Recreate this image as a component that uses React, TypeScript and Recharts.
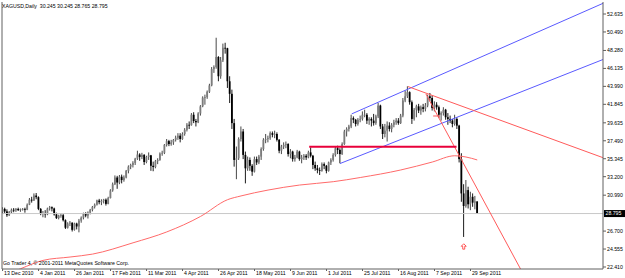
import React from 'react';
import { ComposedChart, Bar, Line, XAxis, YAxis, ReferenceLine, ReferenceDot } from 'recharts';

type Ohlc = [number, number, number, number];

const symbolName = 'XAGUSD,Daily';
const copyright = 'Go Trader 4, \u00a9 2001-2011 MetaQuotes Software Corp.';

// daily open / high / low / close, one array per month
const dec2010: Ohlc[] = [
  [28.95, 29.55, 28.8, 29.35], [29.35, 29.5, 28.85, 29.05], [29.05, 29.3, 28.4, 28.6], [28.6, 29.1, 28.5, 28.95],
  [28.95, 29.4, 28.85, 29.25], [29.25, 29.45, 28.95, 29.2], [29.2, 29.45, 29.0, 29.35], [29.35, 29.5, 29.1, 29.2],
  [29.2, 29.4, 29.0, 29.3], [29.3, 29.45, 29.15, 29.35], [29.35, 29.5, 28.9, 29.25], [29.25, 30.0, 29.2, 29.85],
  [29.85, 30.65, 29.8, 30.45], [30.45, 30.8, 30.1, 30.35], [30.35, 31.2, 30.3, 30.95],
];
const jan2011: Ohlc[] = [
  [30.95, 31.25, 30.5, 30.75], [30.75, 30.85, 29.2, 29.35], [29.35, 29.45, 28.6, 28.8], [28.8, 29.1, 28.35, 28.85],
  [28.85, 29.2, 28.3, 28.7], [28.7, 29.5, 28.6, 29.4], [29.4, 29.7, 29.15, 29.55], [29.55, 29.65, 29.05, 29.4],
  [29.4, 29.5, 28.55, 28.7], [28.7, 28.9, 28.15, 28.25], [28.25, 28.65, 28.1, 28.55], [28.55, 28.85, 28.3, 28.6],
  [28.6, 28.75, 27.85, 28.0], [28.0, 28.1, 26.95, 27.1], [27.1, 27.75, 27.0, 27.6], [27.6, 27.9, 27.3, 27.7],
  [27.7, 27.75, 26.65, 26.85], [26.85, 27.7, 26.75, 27.6], [27.6, 27.7, 26.9, 27.25], [27.25, 28.15, 26.55, 27.95],
  [27.95, 28.45, 27.7, 28.3],
];
const feb2011: Ohlc[] = [
  [28.3, 28.9, 28.1, 28.75], [28.75, 28.95, 28.35, 28.55], [28.55, 29.05, 28.2, 28.9], [28.9, 29.35, 28.7, 29.25],
  [29.25, 29.7, 29.05, 29.6], [29.6, 30.0, 29.4, 29.85], [29.85, 30.45, 29.75, 30.35], [30.35, 30.55, 29.9, 30.15],
  [30.15, 30.5, 29.8, 30.3], [30.3, 30.55, 30.0, 30.45], [30.45, 30.6, 29.75, 29.95], [29.95, 30.8, 29.9, 30.65],
  [30.65, 31.7, 30.6, 31.55], [31.55, 32.5, 31.4, 32.3], [32.3, 33.35, 32.2, 33.1], [33.1, 33.3, 31.75, 32.5],
  [32.5, 33.4, 32.3, 33.2], [33.2, 33.45, 32.4, 32.8], [32.8, 33.35, 32.6, 33.1], [33.1, 34.0, 33.0, 33.9],
];
const mar2011: Ohlc[] = [
  [33.9, 34.55, 33.6, 34.4], [34.4, 34.75, 34.1, 34.6], [34.6, 35.05, 34.3, 34.85], [34.85, 35.45, 34.6, 35.35],
  [35.35, 36.3, 35.2, 35.85], [35.85, 36.0, 35.1, 35.55], [35.55, 36.05, 35.3, 35.8], [35.8, 35.9, 34.6, 34.95],
  [34.95, 35.7, 34.8, 35.55], [35.55, 36.1, 35.2, 35.75], [35.75, 35.8, 33.9, 34.5], [34.5, 35.0, 33.85, 34.35],
  [34.35, 35.2, 34.2, 35.05], [35.05, 35.4, 34.7, 35.2], [35.2, 36.1, 35.1, 35.95], [35.95, 36.3, 35.7, 36.05],
  [36.05, 37.1, 35.9, 37.0], [37.0, 37.7, 36.8, 37.45], [37.45, 37.6, 36.85, 37.1], [37.1, 37.6, 36.9, 37.3],
  [37.3, 37.7, 37.0, 37.6], [37.6, 38.1, 37.4, 37.85], [37.85, 38.4, 37.6, 38.1],
];
const apr2011: Ohlc[] = [
  [38.1, 38.4, 37.3, 37.7], [37.7, 38.5, 37.6, 38.3], [38.3, 39.0, 38.1, 38.8], [38.8, 39.6, 38.6, 39.4],
  [39.4, 39.8, 38.9, 39.35], [39.35, 40.8, 39.3, 40.6], [40.6, 40.9, 39.6, 39.85], [39.85, 40.1, 39.2, 39.7],
  [39.7, 40.9, 39.6, 40.75], [40.75, 41.75, 40.5, 41.6], [41.6, 42.8, 41.5, 42.65], [42.65, 43.0, 41.8, 42.7],
  [42.7, 43.5, 42.5, 43.35], [43.35, 44.3, 43.2, 44.1], [44.1, 46.3, 44.0, 46.05], [46.05, 46.5, 45.6, 46.3],
  [46.3, 49.8, 46.1, 47.5], [47.5, 47.6, 44.6, 45.2], [45.2, 47.5, 44.9, 47.1], [47.1, 49.1, 46.9, 48.6],
  [48.6, 49.2, 47.9, 48.55],
];
const may2011: Ohlc[] = [
  [48.55, 48.6, 43.8, 44.6], [44.6, 45.2, 42.0, 43.1], [43.1, 43.6, 38.9, 39.6], [39.6, 40.1, 34.4, 35.2],
  [35.2, 36.8, 32.9, 35.4], [35.4, 37.9, 35.2, 37.7], [37.7, 39.2, 37.4, 38.6], [38.6, 38.9, 35.3, 35.8],
  [35.8, 36.2, 32.4, 34.2], [34.2, 35.6, 33.9, 35.2], [35.2, 35.5, 33.9, 34.5], [34.5, 34.7, 33.3, 33.8],
  [33.8, 35.6, 33.7, 35.3], [35.3, 35.6, 34.6, 34.9], [34.9, 35.8, 34.7, 35.6], [35.6, 36.7, 35.2, 36.5],
  [36.5, 37.8, 36.3, 37.6], [37.6, 38.3, 37.2, 37.7], [37.7, 38.1, 37.3, 37.8], [37.8, 38.6, 37.6, 38.4],
  [38.4, 38.6, 37.9, 38.2], [38.2, 38.7, 37.8, 38.3],
];
const jun2011: Ohlc[] = [
  [38.3, 38.5, 37.4, 37.6], [37.6, 37.7, 36.0, 36.3], [36.3, 37.0, 35.9, 36.8], [36.8, 37.3, 36.5, 37.0],
  [37.0, 37.4, 36.6, 37.1], [37.1, 37.2, 35.6, 35.9], [35.9, 36.5, 35.4, 36.2], [36.2, 36.3, 35.0, 35.3],
  [35.3, 35.8, 35.0, 35.5], [35.5, 36.4, 35.4, 36.2], [36.2, 36.3, 35.1, 35.3], [35.3, 35.8, 34.8, 35.5],
  [35.5, 35.9, 35.2, 35.7], [35.7, 35.9, 35.2, 35.5], [35.5, 36.3, 35.4, 36.1], [36.1, 36.7, 35.5, 35.7],
  [35.7, 35.8, 34.1, 34.6], [34.6, 35.0, 33.9, 34.2], [34.2, 34.6, 33.6, 34.0], [34.0, 34.3, 33.4, 33.9],
  [33.9, 34.9, 33.8, 34.7], [34.7, 34.9, 34.1, 34.5],
];
const jul2011: Ohlc[] = [
  [34.5, 34.6, 33.6, 33.9], [33.9, 35.0, 33.8, 34.9], [34.9, 35.4, 34.6, 35.2], [35.2, 36.0, 35.0, 35.8],
  [35.8, 36.8, 35.6, 36.6], [36.6, 36.9, 35.9, 36.4], [36.4, 36.6, 34.8, 35.9], [35.9, 37.3, 35.8, 37.1],
  [37.1, 38.8, 37.0, 38.6], [38.6, 39.1, 38.0, 38.9], [38.9, 39.4, 38.6, 39.2], [39.2, 40.6, 39.0, 40.2],
  [40.2, 40.4, 39.6, 40.0], [40.0, 40.1, 39.2, 39.5], [39.5, 40.2, 39.3, 40.0], [40.0, 40.5, 39.7, 40.1],
  [40.1, 41.0, 39.9, 40.6], [40.6, 41.2, 40.3, 40.6], [40.6, 40.8, 39.5, 39.9], [39.9, 40.3, 39.4, 40.1],
  [40.1, 40.3, 39.2, 39.9],
];
const aug2011: Ohlc[] = [
  [39.9, 40.7, 39.3, 39.6], [39.6, 40.6, 39.4, 40.4], [40.4, 42.0, 40.2, 41.7], [41.7, 41.8, 38.9, 39.2],
  [39.2, 39.5, 37.7, 38.3], [38.3, 39.5, 37.9, 38.7], [38.7, 39.8, 37.4, 39.3], [39.3, 39.7, 38.6, 38.9],
  [38.9, 39.6, 38.5, 39.4], [39.4, 40.0, 39.1, 39.7], [39.7, 40.2, 39.4, 39.9], [39.9, 40.2, 39.4, 39.6],
  [39.6, 40.7, 39.5, 40.5], [40.5, 42.6, 40.3, 42.3], [42.3, 43.5, 42.1, 42.8], [42.8, 44.0, 42.6, 43.3],
  [43.3, 43.4, 41.8, 42.1], [42.1, 42.3, 39.5, 40.1], [40.1, 41.4, 39.9, 41.2], [41.2, 41.8, 40.3, 41.6],
  [41.6, 41.9, 40.8, 41.1], [41.1, 41.7, 40.6, 41.5], [41.5, 41.9, 40.9, 41.3],
];
const sep2011: Ohlc[] = [
  [41.3, 42.0, 41.0, 41.7], [41.7, 43.0, 41.5, 42.8], [42.8, 43.2, 42.2, 42.6], [42.6, 42.9, 41.1, 41.4],
  [41.4, 42.2, 41.0, 41.8], [41.8, 42.1, 41.2, 41.5], [41.5, 41.7, 40.2, 40.6], [40.6, 41.0, 39.9, 40.8],
  [40.8, 41.5, 40.5, 41.2], [41.2, 41.3, 40.0, 40.3], [40.3, 40.8, 39.4, 40.1], [40.1, 40.5, 39.6, 39.9],
  [39.9, 40.1, 39.1, 39.5], [39.5, 40.6, 39.3, 40.1], [40.1, 40.3, 38.9, 39.3], [39.3, 39.4, 34.9, 35.3],
  [35.3, 36.0, 30.2, 31.2], [31.2, 32.3, 26.0, 29.7], [29.7, 32.8, 29.5, 31.6], [31.6, 32.0, 29.4, 29.9],
  [29.9, 31.4, 29.2, 30.8], [30.8, 31.2, 29.6, 30.1],
];
const oct2011: Ohlc[] = [
  [30.1, 30.9, 29.3, 30.25], [30.245, 30.245, 28.765, 28.795],
];

const dateLabels = [
  '13 Dec 2010', '4 Jan 2011', '26 Jan 2011', '17 Feb 2011', '11 Mar 2011', '4 Apr 2011', '26 Apr 2011',
  '18 May 2011', '9 Jun 2011', '1 Jul 2011', '25 Jul 2011', '16 Aug 2011', '7 Sep 2011', '29 Sep 2011',
];
const barsPerLabel = 16;

const priceTicks = [22.41, 24.555, 26.7, 30.99, 33.2, 35.345, 37.49, 39.635, 41.845, 43.99, 46.135, 48.28, 50.49, 52.635];

// moving average: bar index -> value
const maBars = [0, 8, 18, 30, 40, 58, 73, 88, 100, 106, 118, 132, 147, 159, 177, 191, 201, 206, 211];
const maValues = [21.3, 22.2, 23.2, 23.6, 23.95, 25.3, 26.6, 28.45, 30.45, 30.9, 31.6, 32.2, 32.6, 33.1, 34.0, 34.95, 35.7, 35.55, 35.2];

// hand-drawn objects, anchored as [bar index, price]
const channelLines = [
  { from: [155.2, 40.7], to: [266.9, 53.91] },
  { from: [150.0, 34.77], to: [266.9, 47.2] },
];
const thinRedLines = [
  { from: [180.2, 43.97], to: [266.9, 35.47] },
  { from: [188.2, 43.08], to: [232, 21.3] },
  { from: [191.4, 40.45], to: [194.4, 40.45] },
];
const levelLine = { from: 136.3, to: 201.8, price: 36.78 };
const arrowMarks = [{ bar: 205, price: 24.85 }];

const bars = [...dec2010, ...jan2011, ...feb2011, ...mar2011, ...apr2011, ...may2011, ...jun2011,
  ...jul2011, ...aug2011, ...sep2011, ...oct2011].map(([o, h, l, c], i) => ({ i, o, h, l, c }));
const maData = maBars.map((b, k) => ({ i: b, ma: maValues[k] }));
const last = bars[bars.length - 1];

const FONT = '"Liberation Sans", Arial, sans-serif';
const FS = 5.2;

const Candle = (props: any) => {
  const { x, y, width, height, payload } = props;
  const { o, h, l, c } = payload;
  const cx = x + width / 2;
  const k = height / (h - l || 1);
  const yo = y + (h - o) * k;
  const yc = y + (h - c) * k;
  const up = c >= o;
  const top = Math.min(yo, yc);
  const bh = Math.max(Math.abs(yc - yo), 0.8);
  return (
    <g>
      <line x1={cx} x2={cx} y1={y} y2={y + height} stroke={up ? '#333' : '#000'} strokeWidth={0.9} />
      <rect x={cx - 0.9} y={top} width={1.8} height={bh} fill={up ? '#7c7c7c' : '#000'} />
    </g>
  );
};

const DateTick = (props: any) => {
  const { x, y, payload } = props;
  return (
    <text x={x + 1.5} y={y + 4} textAnchor="start" fontSize={FS} fontFamily={FONT} fill="#000">
      {dateLabels[Math.round(payload.value / barsPerLabel)]}
    </text>
  );
};

const BidLabel = (props: any) => {
  const { viewBox } = props;
  if (!viewBox) return null;
  const { x, y, width } = viewBox;
  return (
    <g>
      <rect x={x + width + 1} y={y - 3.5} width={21} height={7} fill="#000" />
      <text x={x + width + 2.5} y={y + 1.9} fontSize={FS} fontFamily={FONT} fill="#fff">
        {last.c.toFixed(3)}
      </text>
    </g>
  );
};

const Arrow = (props: any) => {
  const { cx, cy } = props;
  const d = `M${cx},${cy - 2.8} L${cx + 2.5},${cy - 0.3} L${cx + 1},${cy - 0.3} L${cx + 1},${cy + 2.6} L${cx - 1},${cy + 2.6} L${cx - 1},${cy - 0.3} L${cx - 2.5},${cy - 0.3} Z`;
  return <path d={d} fill="#fff" stroke="#ff3030" strokeWidth={0.8} />;
};

export default function App() {
  const xTicks = dateLabels.map((_, k) => k * barsPerLabel);
  return (
    <div style={{ position: 'absolute', left: 0, top: 0, width: 625, height: 278, background: '#fff' }}>
      <ComposedChart width={625} height={278} data={bars} margin={{ top: 2, right: 0, bottom: 0, left: 1 }}>
        <XAxis
          dataKey="i"
          type="number"
          domain={[-0.25, 266.9]}
          allowDataOverflow
          ticks={xTicks}
          interval={0}
          height={9}
          tickSize={2}
          tickMargin={0}
          tick={<DateTick />}
          stroke="#606060"
          axisLine={{ stroke: '#606060' }}
          tickLine={{ stroke: '#606060' }}
        />
        <YAxis
          orientation="right"
          type="number"
          domain={[22.17, 54.07]}
          allowDataOverflow
          ticks={priceTicks}
          interval={0}
          width={22}
          tickSize={3}
          tickMargin={1}
          tickFormatter={(v: number) => v.toFixed(3)}
          tick={{ fontSize: FS, fill: '#000', fontFamily: FONT }}
          axisLine={{ stroke: '#606060' }}
          tickLine={{ stroke: '#606060' }}
        />
        <YAxis yAxisId="edge" orientation="left" type="number" domain={[0, 1]} width={1} tick={false} tickLine={false} axisLine={{ stroke: '#606060' }} />

        <ReferenceLine y={last.c} stroke="#c8c8c8" strokeWidth={1} label={<BidLabel />} />

        <Line data={maData} dataKey="ma" type="monotone" stroke="#ff6a6a" strokeWidth={1} dot={false} isAnimationActive={false} />

        {channelLines.map((ln, k) => (
          <ReferenceLine key={'c' + k} segment={[{ x: ln.from[0], y: ln.from[1] }, { x: ln.to[0], y: ln.to[1] }]}
            stroke="#5a5aff" strokeWidth={1} ifOverflow="hidden" />
        ))}
        {thinRedLines.map((ln, k) => (
          <ReferenceLine key={'r' + k} segment={[{ x: ln.from[0], y: ln.from[1] }, { x: ln.to[0], y: ln.to[1] }]}
            stroke="#ff5a5a" strokeWidth={1} ifOverflow="hidden" />
        ))}
        <ReferenceLine segment={[{ x: levelLine.from, y: levelLine.price }, { x: levelLine.to, y: levelLine.price }]}
          stroke="#e8003a" strokeWidth={2} ifOverflow="hidden" />

        <Bar dataKey={(d: any) => [d.l, d.h]} barSize={2} shape={<Candle />} isAnimationActive={false} />

        {arrowMarks.map((m, k) => (
          <ReferenceDot key={'a' + k} x={m.bar} y={m.price} r={3} shape={<Arrow />} ifOverflow="visible" />
        ))}
      </ComposedChart>
      <svg width={625} height={278} style={{ position: 'absolute', left: 0, top: 0, pointerEvents: 'none' }}>
        <text x={2} y={8} fontSize={FS} fontFamily={FONT} fill="#000" style={{ whiteSpace: 'pre' }}>
          {`${symbolName}  ${last.o.toFixed(3)} ${last.h.toFixed(3)} ${last.l.toFixed(3)} ${last.c.toFixed(3)}`}
        </text>
        <text x={3} y={264.5} fontSize={FS} fontFamily={FONT} fill="#000">{copyright}</text>
      </svg>
    </div>
  );
}
